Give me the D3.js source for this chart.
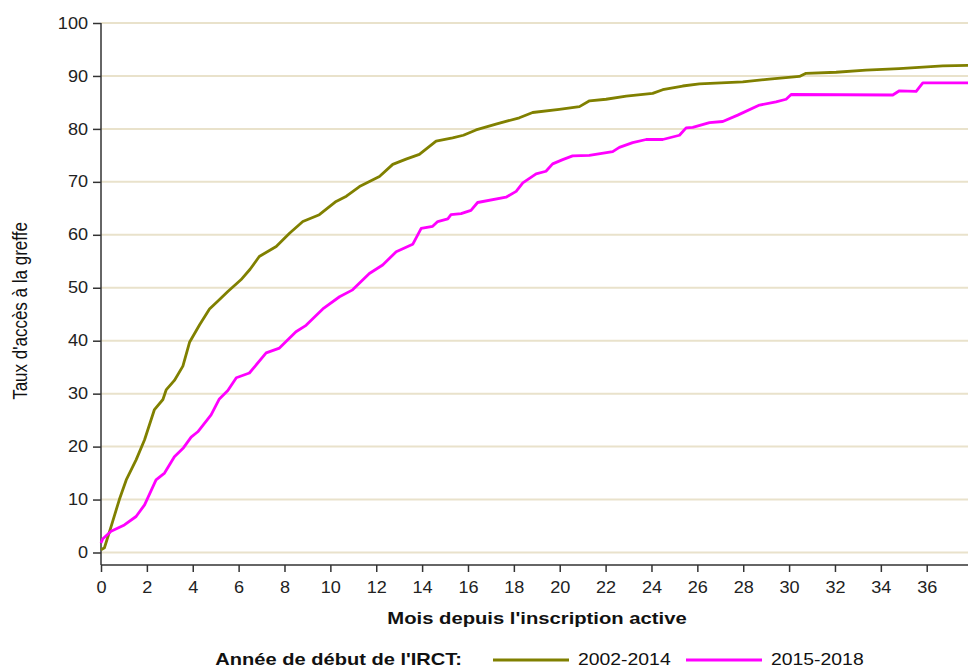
<!DOCTYPE html>
<html>
<head>
<meta charset="utf-8">
<script src="https://cdn.jsdelivr.net/npm/d3@7"></script>
<style>
  html, body { margin: 0; padding: 0; background: #fff; }
  svg { display: block; font-family: "Liberation Sans", Arial, sans-serif; }
</style>
</head>
<body>
<svg id="chart" width="968" height="668"></svg>
<script>
const seriesNames = ["2002-2014", "2015-2018"];
const seriesColors = ["#808000", "#ff00ff"];

const monthsA = [0, 0.15, 0.44, 0.8, 1.1, 1.53, 1.9, 2.33, 2.7, 2.84, 3.2, 3.57, 3.86, 4.3, 4.73, 5.1, 5.53, 6.1, 6.5, 6.9, 7.64, 8.22, 8.8, 9.52, 10.25, 10.7, 11.27, 12.14, 12.72, 13.3, 13.88, 14.61, 15.33, 15.8, 16.35, 17.22, 18.24, 18.82, 19.98, 20.86, 21.3, 22.02, 22.9, 24.05, 24.49, 25.36, 26.09, 27.98, 29.14, 30.45, 30.74, 32.05, 33.35, 34.8, 36.7, 37.8];
const valuesA = [0.5, 0.9, 4.9, 10, 13.7, 17.5, 21.3, 27, 28.9, 30.7, 32.5, 35.2, 39.7, 43, 46, 47.5, 49.3, 51.5, 53.5, 55.9, 57.8, 60.3, 62.5, 63.8, 66.3, 67.3, 69.1, 71, 73.3, 74.3, 75.2, 77.7, 78.3, 78.8, 79.8, 80.9, 82.1, 83.1, 83.7, 84.2, 85.3, 85.6, 86.2, 86.7, 87.4, 88.1, 88.5, 88.9, 89.4, 89.9, 90.5, 90.7, 91.1, 91.4, 91.9, 92];

const monthsB = [0, 0.08, 0.44, 1.02, 1.53, 1.9, 2.4, 2.77, 3.2, 3.6, 3.93, 4.22, 4.8, 5.16, 5.53, 5.9, 6.47, 7.2, 7.78, 8.5, 8.94, 9.67, 10.4, 10.97, 11.7, 12.28, 12.87, 13.59, 13.96, 14.46, 14.68, 15.12, 15.26, 15.7, 16.13, 16.42, 17.66, 18.1, 18.39, 18.97, 19.4, 19.69, 20.13, 20.56, 21.29, 22.31, 22.6, 23.18, 23.77, 24.49, 25.22, 25.51, 25.8, 26.53, 27.11, 27.76, 28.71, 29.43, 29.87, 30.09, 34.52, 34.81, 35.54, 35.83, 37.8];
const valuesB = [1.8, 2.6, 4, 5.2, 6.8, 9, 13.7, 15, 18.1, 19.8, 21.8, 22.8, 26, 29, 30.6, 33, 33.9, 37.7, 38.6, 41.7, 42.9, 46, 48.3, 49.6, 52.7, 54.3, 56.8, 58.2, 61.2, 61.6, 62.5, 63, 63.8, 64, 64.6, 66.1, 67.1, 68.2, 69.8, 71.5, 72, 73.4, 74.2, 74.9, 75, 75.7, 76.5, 77.4, 78, 78, 78.8, 80.2, 80.3, 81.2, 81.4, 82.6, 84.5, 85.1, 85.6, 86.5, 86.4, 87.2, 87.1, 88.7, 88.7];

const xTicks = d3.range(0, 37, 2);
const yTicks = d3.range(0, 101, 10);

const xTitle = "Mois depuis l'inscription active";
const yTitle = "Taux d'accès à la greffe";
const legendTitle = "Année de début de l'IRCT:";

const STRETCH = 1.17;
function widen(sel, k) {
  sel.each(function () {
    const w = this.getComputedTextLength();
    d3.select(this).attr("textLength", w * (k || STRETCH)).attr("lengthAdjust", "spacingAndGlyphs");
  });
}

const svg = d3.select("#chart");
const x = d3.scaleLinear().domain([0, 37.8]).range([101, 968]);
const y = d3.scaleLinear().domain([0, 100]).range([552.5, 23]);

// gridlines
svg.append("g").selectAll("line").data(yTicks).join("line")
  .attr("x1", x(0)).attr("x2", 968)
  .attr("y1", d => y(d)).attr("y2", d => y(d))
  .attr("stroke", "#e9e2cb").attr("stroke-width", 2);

// y axis
const yAxis = svg.append("g").attr("transform", `translate(${x(0)},0)`)
  .call(d3.axisLeft(y).tickValues(yTicks).tickSize(8).tickPadding(5));
yAxis.select(".domain").remove();
yAxis.append("line").attr("x1", 0).attr("x2", 0).attr("y1", y(100)).attr("y2", 565)
  .attr("stroke", "#333").attr("stroke-width", 1.5);
yAxis.selectAll(".tick line").attr("stroke", "#333").attr("stroke-width", 1.5);
yAxis.selectAll(".tick text").attr("fill", "#222").style("font-size", "16px")
  .style("font-family", "'Liberation Sans', Arial, sans-serif").call(widen, 1.13);

// x axis
const xAxis = svg.append("g").attr("transform", `translate(0,565)`)
  .call(d3.axisBottom(x).tickValues(xTicks).tickSize(7).tickPadding(10));
xAxis.select(".domain").remove();
xAxis.append("line").attr("x1", x(0)).attr("x2", 968).attr("y1", 0).attr("y2", 0)
  .attr("stroke", "#333").attr("stroke-width", 1.5);
xAxis.selectAll(".tick line").attr("stroke", "#333").attr("stroke-width", 1.5);
xAxis.selectAll(".tick text").attr("fill", "#222").style("font-size", "16px")
  .style("font-family", "'Liberation Sans', Arial, sans-serif").call(widen, 1.13);

// lines
const line = d3.line().x(d => x(d[0])).y(d => y(d[1]));
const dataA = monthsA.map((m, i) => [m, valuesA[i]]);
const dataB = monthsB.map((m, i) => [m, valuesB[i]]);
[dataA, dataB].forEach((data, i) => {
  svg.append("path").datum(data)
    .attr("fill", "none").attr("stroke", seriesColors[i])
    .attr("stroke-width", 2.8).attr("stroke-linejoin", "round")
    .attr("d", line);
});

// axis titles
svg.append("text").attr("x", 537).attr("y", 624).attr("text-anchor", "middle")
  .style("font-size", "17px").style("font-weight", "bold").attr("fill", "#111")
  .text(xTitle).call(widen, 1.19);
svg.append("text").attr("transform", `translate(27,311) rotate(-90) scale(1,${STRETCH})`)
  .attr("text-anchor", "middle").style("font-size", "17px").attr("fill", "#111")
  .text(yTitle);

// legend
const lg = svg.append("g");
lg.append("text").attr("x", 462).attr("y", 665).attr("text-anchor", "end")
  .style("font-size", "17px").style("font-weight", "bold").attr("fill", "#111")
  .text(legendTitle).call(widen, 1.18);
const legX = [493, 686];
seriesNames.forEach((name, i) => {
  lg.append("line").attr("x1", legX[i]).attr("x2", legX[i] + 76)
    .attr("y1", 660).attr("y2", 660)
    .attr("stroke", seriesColors[i]).attr("stroke-width", 2.8);
  lg.append("text").attr("x", legX[i] + 85).attr("y", 665)
    .style("font-size", "17px").attr("fill", "#111").text(name).call(widen, 1.14);
});
</script>
</body>
</html>
